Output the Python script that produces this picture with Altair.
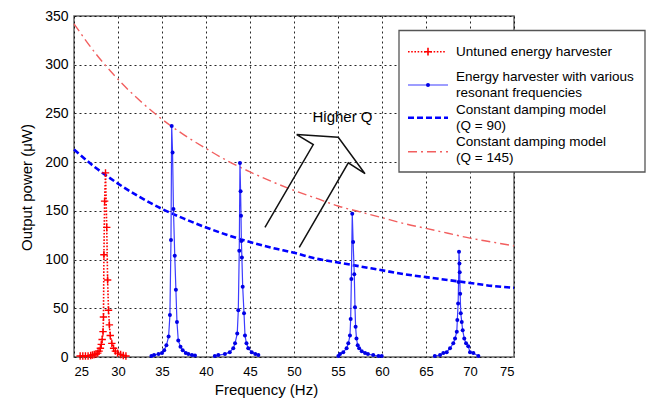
import altair as alt
import pandas as pd

# ---------------- data ----------------
model_freq = [25, 27.5, 30, 32.5, 35, 37.5, 40, 42.5, 45, 47.5, 50, 52.5,
              55, 57.5, 60, 62.5, 65, 67.5, 70, 72.5, 75]
q90_power = [213, 194, 178, 164, 152, 142, 133, 125, 118, 112, 107, 101,
             97, 93, 89, 85, 82, 79, 76, 73, 71]
q145_power = [342, 311, 285, 263, 244, 228, 214, 201, 190, 180, 171, 163,
              155, 149, 143, 137, 132, 127, 122, 118, 114]

untuned_freq = [25.7, 26.0, 26.3, 26.6, 26.9, 27.1, 27.3, 27.5, 27.7, 27.85,
                28.0, 28.1, 28.2, 28.3, 28.35, 28.4, 28.48, 28.58, 28.72, 28.82,
                28.92, 29.02, 29.12, 29.3, 29.5, 29.7, 29.95, 30.3, 30.6, 30.9]
untuned_power = [1, 1, 1, 1, 1.5, 2, 2.5, 3, 4, 6,
                 9, 13, 18, 26, 41, 105, 160, 189, 133, 79,
                 48, 33, 22, 14, 9, 6, 4, 2.5, 1.5, 1]

peak1_freq = [33.8, 34.1, 34.6, 35.0, 35.25, 35.5, 35.75, 35.9, 36.02, 36.1,
              36.2, 36.3, 36.45, 36.58, 36.7, 36.85, 37.1, 37.35, 37.7, 38.0, 38.4, 38.75]
peak1_power = [1, 2, 3, 4, 7, 12, 21, 43, 120, 237,
               210, 152, 104, 69, 36, 17, 10.5, 7, 4, 3, 2, 1.5]

peak2_freq = [41.0, 41.4, 42.15, 42.7, 43.1, 43.3, 43.55, 43.67, 43.78, 43.86,
              43.93, 43.98, 44.02, 44.08, 44.17, 44.32, 44.43, 44.6, 44.8, 45.2, 45.6, 45.95]
peak2_power = [1, 2, 3, 5, 9, 14, 24, 48, 109, 199,
               170, 145, 119, 102, 72, 45, 22, 14, 9, 5, 3, 2]

peak3_freq = [55.04, 55.23, 55.6, 55.98, 56.17, 56.36, 56.44, 56.52, 56.62, 56.72,
              56.85, 56.93, 57.0, 57.1, 57.24, 57.4, 57.7, 58.07, 58.4, 59.0, 59.6, 59.97]
peak3_power = [1, 3, 5, 9, 14, 22, 39, 80, 147, 118,
               85, 51, 31, 19, 12, 9, 6, 4, 3, 2, 1, 1]

peak4_freq = [66.0, 66.6, 66.97, 67.35, 67.73, 68.1, 68.3, 68.5, 68.56, 68.65,
              68.7, 68.75, 68.8, 68.83, 68.88, 68.95, 69.06, 69.17, 69.35, 69.55, 69.8, 70.0, 70.38, 70.95]
peak4_power = [1, 2, 4, 5, 9, 14, 19, 26, 38, 55,
               77, 108, 96, 87, 65, 45, 36, 27.5, 19, 14, 11, 5, 4, 1]

arrow_freq = [46.70, 52.19, 50.31, 55.03, 58.07, 56.17, 50.60]
arrow_power = [133.0, 218.1, 228.3, 225.5, 188.1, 199.3, 112.6]

annotation_text = "Higher Q"
annotation_freq = [52.1]
annotation_power = [246]

x_ticks = [25, 30, 35, 40, 45, 50, 55, 60, 65, 70, 75]
y_ticks = [0, 50, 100, 150, 200, 250, 300, 350]

legend_labels = [
    ["Untuned energy harvester"],
    ["Energy harvester with various", "resonant frequencies"],
    ["Constant damping model", "(Q = 90)"],
    ["Constant damping model", "(Q = 145)"],
]

# ---------------- tables ----------------
model_df = pd.DataFrame({"freq": model_freq, "q90": q90_power, "q145": q145_power})
untuned_df = pd.DataFrame({"freq": untuned_freq, "power": untuned_power})
peaks = []
for i, (f, p) in enumerate([(peak1_freq, peak1_power), (peak2_freq, peak2_power),
                            (peak3_freq, peak3_power), (peak4_freq, peak4_power)]):
    peaks.append(pd.DataFrame({"freq": f, "power": p, "peak": i}))
peaks_df = pd.concat(peaks, ignore_index=True)
arrow_df = pd.DataFrame({"freq": arrow_freq, "power": arrow_power,
                         "idx": list(range(len(arrow_freq)))})
annot_df = pd.DataFrame({"freq": annotation_freq, "power": annotation_power,
                         "label": [annotation_text]})

FONT = "Liberation Sans"
xs = alt.Scale(domain=[25, 75], nice=False, zero=False)
ys = alt.Scale(domain=[0, 350], nice=False)

x_axis = alt.Axis(values=x_ticks, title="Frequency (Hz)", labelFontSize=13,
                  labelPadding=8, titleFontSize=15, titleFontWeight="normal",
                  titleX=192, titleY=37, titleBaseline="alphabetic", titleAlign="center")
y_axis = alt.Axis(values=y_ticks, title="Output power (\u03bcW)", labelFontSize=14,
                  labelPadding=6, titleFontSize=15, titleFontWeight="normal",
                  titleX=-48, titleY=171, titleBaseline="middle", titleAlign="center")

X = alt.X("freq:Q", scale=xs, axis=x_axis)
Xn = alt.X("freq:Q", scale=xs)

q145 = alt.Chart(model_df).mark_line(
    color="#f25f5f", strokeWidth=1.4, strokeDash=[9, 4, 2, 4], interpolate="monotone"
).encode(x=X, y=alt.Y("q145:Q", scale=ys, axis=y_axis))

q90 = alt.Chart(model_df).mark_line(
    color="#0000ff", strokeWidth=2.6, strokeDash=[6, 3], interpolate="monotone"
).encode(x=Xn, y=alt.Y("q90:Q", scale=ys))

peak_lines = alt.Chart(peaks_df).mark_line(color="#3c3cff", strokeWidth=1.2).encode(
    x=Xn, y=alt.Y("power:Q", scale=ys), detail="peak:N")
peak_pts = alt.Chart(peaks_df).mark_point(
    filled=True, color="#0000e6", size=16, shape="circle", opacity=1
).encode(x=Xn, y=alt.Y("power:Q", scale=ys))

plus = "M-1,0L1,0M0,-1L0,1"
untuned_line = alt.Chart(untuned_df).mark_line(
    color="#ff0000", strokeWidth=1.6, strokeDash=[1.6, 1.6]
).encode(x=Xn, y=alt.Y("power:Q", scale=ys))
untuned_pts = alt.Chart(untuned_df).mark_point(
    shape=plus, filled=False, color="#ff0000", strokeWidth=1.4, size=55, opacity=1
).encode(x=Xn, y=alt.Y("power:Q", scale=ys))

arrow = alt.Chart(arrow_df).mark_line(color="#111111", strokeWidth=1.5).encode(
    x=Xn, y=alt.Y("power:Q", scale=ys), order="idx:Q")

annot = alt.Chart(annot_df).mark_text(
    align="left", baseline="middle", fontSize=15, font=FONT, color="#000000"
).encode(x=Xn, y=alt.Y("power:Q", scale=ys), text="label:N")

# ---------------- legend (drawn manually) ----------------
one = pd.DataFrame({"a": [0]})
leg = [alt.Chart(one).mark_rect(fill="white", stroke="#555555", strokeWidth=1.3).encode(
    x=alt.value(325), x2=alt.value(571), y=alt.value(14.5), y2=alt.value(156))]

sym_y = [35.7, 69, 101.7, 135.7]
leg.append(alt.Chart(one).mark_rule(color="#ff0000", strokeWidth=1.6, strokeDash=[1.6, 1.6]).encode(
    x=alt.value(334), x2=alt.value(372), y=alt.value(sym_y[0])))
leg.append(alt.Chart(one).mark_point(shape=plus, filled=False, color="#ff0000",
                                     strokeWidth=1.6, size=60, opacity=1).encode(
    x=alt.value(354), y=alt.value(sym_y[0])))
leg.append(alt.Chart(one).mark_rule(color="#3c3cff", strokeWidth=1.2).encode(
    x=alt.value(334), x2=alt.value(374), y=alt.value(sym_y[1])))
leg.append(alt.Chart(one).mark_point(filled=True, color="#0000e6", size=16, opacity=1).encode(
    x=alt.value(354), y=alt.value(sym_y[1])))
leg.append(alt.Chart(one).mark_rule(color="#0000ff", strokeWidth=2.6, strokeDash=[6, 3]).encode(
    x=alt.value(334), x2=alt.value(374), y=alt.value(sym_y[2])))
leg.append(alt.Chart(one).mark_rule(color="#f25f5f", strokeWidth=1.4, strokeDash=[9, 4, 2, 4]).encode(
    x=alt.value(334), x2=alt.value(374), y=alt.value(sym_y[3])))

text_y = [[35.7], [60.7, 76.7], [94, 110], [125.7, 141.7]]
for labels, ys_ in zip(legend_labels, text_y):
    for lab, yy in zip(labels, ys_):
        leg.append(alt.Chart(one).mark_text(
            align="left", baseline="middle", fontSize=13.5, font=FONT, color="#000000", text=lab
        ).encode(x=alt.value(382), y=alt.value(yy)))

chart = alt.layer(q145, q90, peak_lines, peak_pts, untuned_line, untuned_pts,
                  arrow, annot, *leg).properties(
    width=440, height=341,
    autosize=alt.AutoSizeParams(type="none"),
    padding={"left": 66, "top": 8, "right": 134, "bottom": 41},
    background="white",
).configure_view(
    stroke="#666666", strokeWidth=1.5
).configure_axis(
    grid=True, gridColor="#000000", gridDash=[2, 3], gridWidth=1, gridOpacity=0.85,
    domain=False, ticks=False, labelColor="#000000", titleColor="#000000",
    labelFont=FONT, titleFont=FONT,
)

chart.save("out.html", embed_options={"renderer": "svg", "actions": False})
